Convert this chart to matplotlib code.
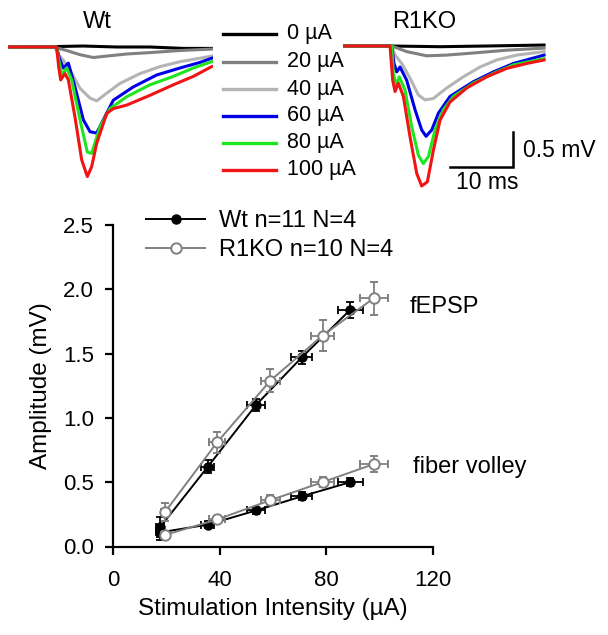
import matplotlib
matplotlib.use("Agg")
import matplotlib.pyplot as plt
from matplotlib.lines import Line2D

plt.rcParams['font.family'] = ['Liberation Sans', 'DejaVu Sans']

# ---------------- data: summary plot ----------------
wt_x = [17.6, 35.5, 53.6, 70.8, 89.0]
wt_xerr = [1.5, 2.5, 3.5, 4.0, 4.7]
wt_fepsp = [0.15, 0.62, 1.10, 1.47, 1.84]
wt_fepsp_err = [0.08, 0.05, 0.05, 0.05, 0.06]
wt_fv = [0.11, 0.17, 0.28, 0.39, 0.50]
wt_fv_err = [0.06, 0.03, 0.03, 0.03, 0.03]

ko_x = [19.5, 39.0, 59.0, 78.6, 97.8]
ko_xerr = [1.5, 3.0, 3.5, 4.5, 5.3]
ko_fepsp = [0.27, 0.81, 1.29, 1.64, 1.93]
ko_fepsp_err = [0.07, 0.08, 0.09, 0.12, 0.13]
ko_fv = [0.09, 0.21, 0.36, 0.50, 0.64]
ko_fv_err = [0.03, 0.03, 0.04, 0.04, 0.06]

x_ticks = [0, 40, 80, 120]
y_ticks = [0.0, 0.5, 1.0, 1.5, 2.0, 2.5]
legend_labels = ["Wt n=11 N=4", "R1KO n=10 N=4"]

# ---------------- data: example traces (ms, mV) ----------------
intensity_labels = ["0 µA", "20 µA", "40 µA", "60 µA", "80 µA", "100 µA"]
trace_colors = ["#000000", "#808080", "#b4b4b4", "#0000e6", "#1ee61e", "#f01414"]

wt_0_t = [0, 6.67, 11.96, 17.25, 22.54, 27.8, 32.33]
wt_0_v = [0, 0.005, 0.014, 0.0, 0.0, -0.02, -0.02]
wt_20_t = [0, 7.20, 9.31, 11.43, 13.54, 15.66, 18.84, 22.54, 27.30, 32.33]
wt_20_v = [0, 0, -0.05, -0.11, -0.15, -0.13, -0.10, -0.08, -0.05, -0.03]
wt_40_t = [0, 7.46, 7.83, 8.78, 9.84, 11.43, 13.02, 14.07, 15.66, 17.78, 20.95, 24.13, 27.30, 30.48, 32.33]
wt_40_v = [0, 0, -0.09, -0.19, -0.33, -0.59, -0.73, -0.77, -0.66, -0.52, -0.38, -0.28, -0.21, -0.16, -0.13]
wt_60_t = [0, 7.72, 8.15, 8.78, 9.58, 10.63, 11.96, 13.02, 14.07, 15.13, 16.72, 19.89, 23.60, 27.30, 30.48, 32.33]
wt_60_v = [0, 0, -0.16, -0.30, -0.23, -0.57, -1.04, -1.21, -1.23, -1.04, -0.76, -0.57, -0.40, -0.30, -0.22, -0.16]
wt_80_t = [0, 7.72, 8.15, 8.57, 9.31, 10.11, 11.43, 12.59, 13.28, 14.60, 16.19, 18.84, 22.54, 26.24, 29.42, 32.33]
wt_80_v = [0, 0, -0.23, -0.40, -0.30, -0.47, -1.04, -1.50, -1.52, -1.14, -0.88, -0.71, -0.54, -0.42, -0.30, -0.21]
wt_100_t = [0, 7.72, 8.04, 8.36, 9.05, 9.58, 10.63, 11.69, 12.59, 13.28, 14.07, 15.66, 16.72, 18.84, 22.54, 26.24, 29.42, 32.33]
wt_100_v = [0, 0, -0.28, -0.47, -0.38, -0.47, -1.00, -1.61, -1.85, -1.71, -1.38, -0.95, -0.88, -0.83, -0.69, -0.54, -0.42, -0.28]

ko_0_t = [0, 7.5, 15.45, 23.0, 31.96]
ko_0_v = [0, 0.0, -0.01, 0.0, 0.014]
ko_20_t = [0, 7.78, 10.16, 13.33, 16.51, 20.74, 26.03, 31.96]
ko_20_v = [0, 0, -0.08, -0.14, -0.13, -0.10, -0.06, -0.03]
ko_40_t = [0, 7.78, 8.31, 9.37, 10.69, 12.01, 13.07, 14.39, 16.51, 19.15, 21.80, 24.44, 27.62, 31.96]
ko_40_v = [0, 0, -0.13, -0.25, -0.46, -0.70, -0.77, -0.75, -0.60, -0.44, -0.30, -0.20, -0.13, -0.08]
ko_60_t = [0, 7.78, 8.15, 8.57, 9.10, 10.16, 11.48, 12.54, 13.23, 14.13, 15.19, 17.04, 20.74, 23.92, 27.09, 31.96]
ko_60_v = [0, 0, -0.25, -0.37, -0.30, -0.49, -0.91, -1.20, -1.29, -1.20, -0.96, -0.72, -0.51, -0.37, -0.25, -0.13]
ko_80_t = [0, 7.78, 8.04, 8.47, 8.99, 9.89, 10.95, 12.01, 12.80, 13.60, 14.66, 15.98, 17.57, 20.74, 23.92, 27.09, 31.96]
ko_80_v = [0, 0, -0.39, -0.56, -0.44, -0.63, -1.15, -1.56, -1.68, -1.58, -1.20, -0.91, -0.72, -0.53, -0.39, -0.27, -0.18]
ko_100_t = [0, 7.51, 7.94, 8.31, 8.84, 9.63, 10.69, 11.75, 12.54, 13.44, 14.39, 15.45, 17.04, 19.68, 22.86, 26.03, 29.21, 31.96]
ko_100_v = [0, 0, -0.49, -0.65, -0.53, -0.72, -1.30, -1.82, -2.00, -1.94, -1.49, -1.06, -0.80, -0.60, -0.44, -0.32, -0.25, -0.20]

wt_traces = [(wt_0_t, wt_0_v), (wt_20_t, wt_20_v), (wt_40_t, wt_40_v),
             (wt_60_t, wt_60_v), (wt_80_t, wt_80_v), (wt_100_t, wt_100_v)]
ko_traces = [(ko_0_t, ko_0_v), (ko_20_t, ko_20_v), (ko_40_t, ko_40_v),
             (ko_60_t, ko_60_v), (ko_80_t, ko_80_v), (ko_100_t, ko_100_v)]

# ---------------- figure ----------------
W, H = 608, 635
fig = plt.figure(figsize=(W / 100, H / 100), dpi=100)

def px_axes(left, top, width, height):
    return fig.add_axes([left / W, 1 - (top + height) / H, width / W, height / H])

PX_MS = 6.3
PX_MV = 70.0
YLO, YHI = -2.1, 0.15
TLEN = 32.5

def trace_axes(left_px, base_px):
    top = base_px - YHI * PX_MV
    height = (YHI - YLO) * PX_MV
    ax = px_axes(left_px, top, TLEN * PX_MS, height)
    ax.set_xlim(0, TLEN)
    ax.set_ylim(YLO, YHI)
    ax.axis('off')
    return ax

ax_wt = trace_axes(8, 47)
ax_ko = trace_axes(342.7, 46)
for ax, traces in ((ax_wt, wt_traces), (ax_ko, ko_traces)):
    for (t, v), c in zip(traces, trace_colors):
        ax.plot(t, v, color=c, lw=2.2, solid_joinstyle='round')

fig.text(97 / W, 1 - 28 / H, "Wt", fontsize=17, ha='center', va='baseline')
fig.text(424 / W, 1 - 28 / H, "R1KO", fontsize=17, ha='center', va='baseline')

# scale bar in R1KO trace axes
ax_ko.plot([17.0, 27.0, 27.0], [-1.73, -1.73, -1.23], color='black', lw=1.8,
           solid_joinstyle='miter', clip_on=False)
ax_ko.text(28.6, -1.49, "0.5 mV", fontsize=16.5, ha='left', va='center', clip_on=False)
ax_ko.text(23.0, -1.95, "10 ms", fontsize=16.5, ha='center', va='center', clip_on=False)

# trace legend
leg_ax = px_axes(215, 20, 150, 165)
leg_ax.set_xlim(0, 150)
leg_ax.set_ylim(165, 0)
leg_ax.axis('off')
rows = [14, 41.7, 69, 96, 122.7, 150]
for yy, lab, c in zip(rows, intensity_labels, trace_colors):
    leg_ax.plot([7.5, 61], [yy, yy], color=c, lw=2.4)
    leg_ax.text(72, yy, lab, fontsize=15.5, ha='left', va='center')

# ---------------- summary axes ----------------
ax = px_axes(113.3, 225, 432.7 - 113.3, 546.5 - 225)
ax.set_xlim(0, 120)
ax.set_ylim(0, 2.5)

gray = "#808080"
for y, ye in ((wt_fepsp, wt_fepsp_err), (wt_fv, wt_fv_err)):
    ax.errorbar(wt_x, y, xerr=wt_xerr, yerr=ye, color='black', ecolor='black',
                elinewidth=1.3, capsize=3, capthick=1.3, lw=1.4, marker='o',
                ms=6.5, mfc='black', mec='black', zorder=3)
for y, ye in ((ko_fepsp, ko_fepsp_err), (ko_fv, ko_fv_err)):
    ax.errorbar(ko_x, y, xerr=ko_xerr, yerr=ye, color=gray, ecolor=gray,
                elinewidth=1.3, capsize=3, capthick=1.3, lw=1.4, marker='o',
                ms=7.5, mfc='white', mec=gray, mew=1.4, zorder=4)

ax.set_xticks(x_ticks)
ax.set_yticks(y_ticks)
ax.set_xticklabels([str(v) for v in x_ticks])
ax.set_yticklabels([f"{v:.1f}" for v in y_ticks])
for side in ('top', 'right'):
    ax.spines[side].set_visible(False)
for side in ('left', 'bottom'):
    ax.spines[side].set_linewidth(1.6)
ax.tick_params(axis='both', direction='out', length=6, width=1.6, labelsize=16)
ax.tick_params(axis='x', pad=11)
ax.tick_params(axis='y', pad=8)
ax.set_xlabel("Stimulation Intensity (µA)", fontsize=17.5, labelpad=5)
ax.set_ylabel("Amplitude (mV)", fontsize=17.5, labelpad=8)

ax.text(111.2, 1.86, "fEPSP", fontsize=17, ha='left', va='center')
ax.text(112.7, 0.62, "fiber volley", fontsize=17, ha='left', va='center')

handles = [
    Line2D([], [], color='black', lw=1.4, marker='o', ms=6.5, mfc='black', mec='black'),
    Line2D([], [], color=gray, lw=1.4, marker='o', ms=7.5, mfc='white', mec=gray, mew=1.4),
]
ax.legend(handles, legend_labels, loc='upper left', bbox_to_anchor=(146 / W, 1 - 210 / H),
          bbox_transform=fig.transFigure, frameon=False, fontsize=17,
          handlelength=2.5, handletextpad=0.6, labelspacing=0.3, borderaxespad=0,
          borderpad=0)

fig.savefig("out.png", dpi=100)
